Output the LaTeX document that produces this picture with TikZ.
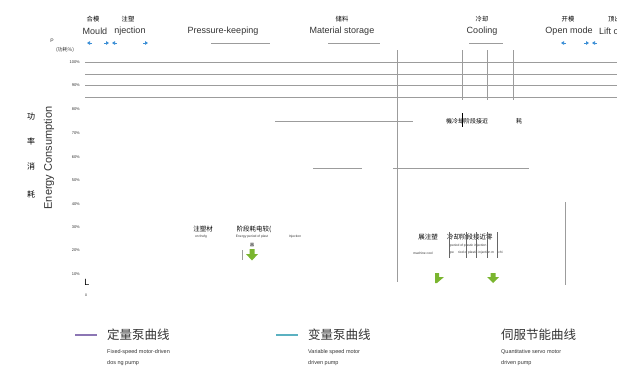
\documentclass[tikz,border=0pt]{standalone}
\usepackage{fontspec}
\setmainfont{Liberation Sans}
\newfontfamily\cjk{Noto Sans CJK SC}
\usetikzlibrary{arrows.meta}
\definecolor{gridgray}{HTML}{9C9C9C}
\definecolor{arrblue}{HTML}{3C8FD6}
\definecolor{leafgreen}{HTML}{7AB52F}
\definecolor{legpurple}{HTML}{8C76B4}
\definecolor{legteal}{HTML}{5BB1C1}
\definecolor{txtgray}{HTML}{333333}
\tikzset{
  grid line/.style={draw=gridgray, line width=0.9pt},
  phase en/.style={font=\fontsize{9}{10}\selectfont, text=txtgray, inner sep=0pt},
  phase cn/.style={font=\cjk\fontsize{6.3}{7}\selectfont, text=black, inner sep=0pt},
  pct/.style={font=\fontsize{4}{5}\selectfont, text=txtgray, inner sep=0pt, anchor=east},
  tiny en/.style={font=\fontsize{3.3}{4}\selectfont, text=txtgray, inner sep=0pt},
  small cn/.style={font=\cjk\fontsize{6.5}{7}\selectfont, text=black, inner sep=0pt},
  blue arrow/.style={draw=arrblue, line width=1pt, -{Triangle[length=3pt,width=3.6pt]}},
  green arrow/.style={fill=leafgreen, draw=none},
  leg cn/.style={font=\cjk\fontsize{12.5}{13}\selectfont, text=txtgray, inner sep=0pt, anchor=west},
  leg en/.style={font=\fontsize{5.5}{6}\selectfont, text=txtgray, inner sep=0pt, anchor=west},
}
\begin{document}
\begin{tikzpicture}[x=1pt,y=-1pt]
\useasboundingbox (0,0) rectangle (617,367);

% phase titles
\node[phase cn] (cnMould) at (93,19) {合模};
\node[phase en] (enMould) at (95,31) {Mould};
\node[phase cn] (cnInj) at (128,19) {注塑};
\node[phase en] (enInj) at (130,31) {njection};
\node[phase en] (enPK) at (223,31) {Pressure-keeping};
\node[phase cn] (cnMS) at (342,19) {储料};
\node[phase en] (enMS) at (342,31) {Material storage};
\node[phase cn] (cnCool) at (482,19) {冷却};
\node[phase en] (enCool) at (482,31) {Cooling};
\node[phase cn] (cnOpen) at (568,19) {开模};
\node[phase en] (enOpen) at (569,31) {Open mode};
\node[phase cn, anchor=west] (cnLift) at (608,19) {顶出};
\node[phase en, anchor=west] (enLift) at (599,31) {Lift out};

% underlines
\coordinate (pkA) at (211,43); \coordinate (pkB) at (270,43);
\coordinate (msA) at (328,43); \coordinate (msB) at (380,43);
\coordinate (coA) at (469,43); \coordinate (coB) at (503,43);
\draw[grid line] (pkA) -- (pkB);
\draw[grid line] (msA) -- (msB);
\draw[grid line] (coA) -- (coB);

% blue arrows
\coordinate (a1s) at (92,43);  \coordinate (a1e) at (87,43);
\coordinate (a2s) at (104,43); \coordinate (a2e) at (109,43);
\coordinate (a3s) at (117,43); \coordinate (a3e) at (112,43);
\coordinate (a4s) at (143,43); \coordinate (a4e) at (148,43);
\coordinate (a5s) at (566,43); \coordinate (a5e) at (561,43);
\coordinate (a6s) at (584,43); \coordinate (a6e) at (589,43);
\coordinate (a7s) at (597,43); \coordinate (a7e) at (592,43);
\foreach \s/\e in {a1s/a1e,a2s/a2e,a3s/a3e,a4s/a4e,a5s/a5e,a6s/a6e,a7s/a7e}
  \draw[blue arrow] (\s) -- (\e);

% axis labels
\node[font=\fontsize{5}{6}\selectfont, text=txtgray, inner sep=0pt] (Plab) at (52,41) {P};
\node[font=\cjk\fontsize{5}{6}\selectfont, text=txtgray, inner sep=0pt] (Punit) at (65,50) {(功耗\%)};
\node[pct] (p100) at (80,62) {100\%};
\node[pct] (p90) at (80,85) {90\%};
\node[pct] (p80) at (80,109) {80\%};
\node[pct] (p70) at (80,133) {70\%};
\node[pct] (p60) at (80,157) {60\%};
\node[pct] (p50) at (80,180) {50\%};
\node[pct] (p40) at (80,204) {40\%};
\node[pct] (p30) at (80,227) {30\%};
\node[pct] (p20) at (80,250) {20\%};
\node[pct] (p10) at (80,274) {10\%};
\node[font=\fontsize{9}{10}\selectfont, inner sep=0pt] (Lmark) at (87,282) {L};
\node[font=\fontsize{3.5}{4}\selectfont, text=txtgray, inner sep=0pt] (zero) at (86,295) {0};

\node[rotate=90, font=\fontsize{11}{12}\selectfont, text=txtgray, inner sep=0pt] (ec) at (49,158) {Energy Consumption};
\node[small cn, font=\cjk\fontsize{8}{9}\selectfont] (c1) at (31,117) {功};
\node[small cn, font=\cjk\fontsize{8}{9}\selectfont] (c2) at (31,141) {率};
\node[small cn, font=\cjk\fontsize{8}{9}\selectfont] (c3) at (31,166) {消};
\node[small cn, font=\cjk\fontsize{8}{9}\selectfont] (c4) at (31,194) {耗};

% horizontal grid lines
\foreach \yy in {62,74,85,97}
  \draw[grid line] (85,\yy) -- (617,\yy);

% vertical lines
\draw[grid line] (397,50) -- (397,282);
\draw[grid line] (462,50) -- (462,100);
\draw[grid line] (487,50) -- (487,100);
\draw[grid line] (513,50) -- (513,100);
\draw[grid line] (565,202) -- (565,285);

% horizontal segments
\draw[grid line] (275,121) -- (413,121);
\draw[grid line] (313,168) -- (362,168);
\draw[grid line] (393,168) -- (529,168);

% garbled top text
\node[small cn, font=\cjk\fontsize{6}{7}\selectfont, anchor=west] (gtop) at (446,121) {機冷却阶段接近};
\node[small cn, font=\cjk\fontsize{6}{7}\selectfont] (gtop2) at (519,121) {耗};
\draw[black, line width=0.5pt] (462,113) -- (462,127);

% middle-bottom text
\node[small cn] (zs) at (203,229) {注塑材};
\node[tiny en] (zsen) at (201,237) {on thefg};
\node[small cn] (jd) at (254,229) {阶段耗电较(};
\node[tiny en] (jden) at (252,237) {Energy period of plast};
\node[tiny en] (injen) at (295,237) {Injection};
\node[small cn, font=\cjk\fontsize{4}{5}\selectfont] (qi) at (252,245) {器};
\draw[grid line, line width=0.6pt] (242,250) -- (242,260);
\fill[green arrow] (249.5,249) -- (254.5,249) -- (254.5,254) -- (258,254) -- (252,260.5) -- (246,254) -- (249.5,254) -- cycle;

% right-bottom text
\node[small cn] (rz) at (428,237) {展注塑};
\node[tiny en] (rzen) at (423,253) {machine cool};
\node[small cn, anchor=west] (rl) at (447,237) {冷却阶段接近零};
\node[tiny en, anchor=west] (rlen1) at (450,246) {period of plastic injection};
\node[tiny en, anchor=west] (rlen2) at (450,253) {pe \quad riod of plastic injection m \quad chi};
\foreach \xx in {449,466,476,487,497}
  \draw[black!60, line width=0.3pt] (\xx,232) -- (\xx,258);
\fill[green arrow] (435,273) -- (439,273) -- (439,277) -- (444,277) -- (437,283) -- (435,283) -- cycle;
\fill[green arrow] (490.5,273) -- (495.5,273) -- (495.5,277) -- (499,277) -- (493,283) -- (487,277) -- (490.5,277) -- cycle;

% legend
\coordinate (lp1) at (75,335); \coordinate (lp2) at (97,335);
\coordinate (lt1) at (276,335); \coordinate (lt2) at (298,335);
\draw[legpurple, line width=2pt] (lp1) -- (lp2);
\draw[legteal, line width=2pt] (lt1) -- (lt2);
\node[leg cn] (l1) at (107,335) {定量泵曲线};
\node[leg en] (l1a) at (107,352) {Fixed-speed motor-driven};
\node[leg en] (l1b) at (107,363) {dos ng pump};
\node[leg cn] (l2) at (308,335) {变量泵曲线};
\node[leg en] (l2a) at (308,352) {Variable speed motor};
\node[leg en] (l2b) at (308,363) {driven pump};
\node[leg cn] (l3) at (501,335) {伺服节能曲线};
\node[leg en] (l3a) at (501,352) {Quantitative servo motor};
\node[leg en] (l3b) at (501,363) {driven pump};
\end{tikzpicture}
\end{document}
